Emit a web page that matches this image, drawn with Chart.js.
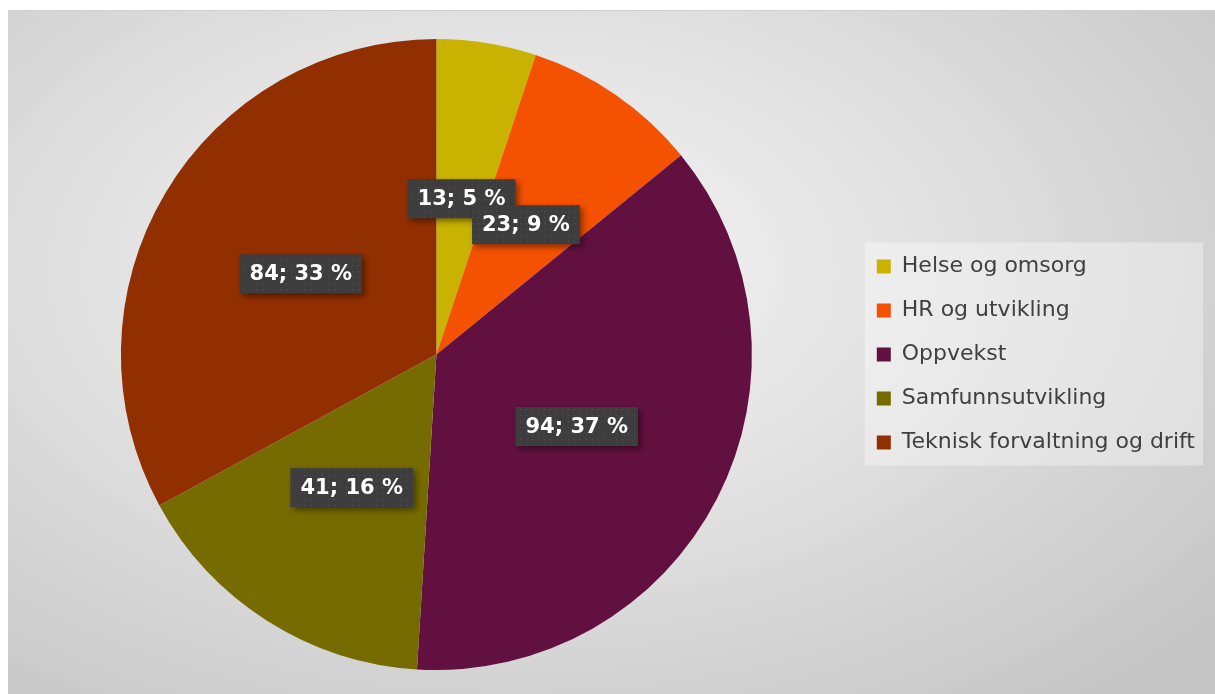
<!DOCTYPE html>
<html>
<head>
<meta charset="utf-8">
<script src="https://cdn.jsdelivr.net/npm/chart.js@4/dist/chart.umd.min.js"></script>
<style>
  html, body { margin: 0; padding: 0; background: #fff; }
  #frame {
    position: absolute; left: 8px; top: 10px; width: 1207px; height: 684px;
    border-top: 1px solid #d0d0d0; box-sizing: border-box;
    background: radial-gradient(ellipse 75% 80% at 42% 38%, #f6f6f6 0%, #e2e2e2 45%, #c6c6c6 100%);
  }
  canvas { display: block; }
</style>
</head>
<body>
<div id="frame"><canvas id="chart" width="1207" height="683"></canvas></div>
<script>
const categories = ['Helse og omsorg', 'HR og utvikling', 'Oppvekst', 'Samfunnsutvikling', 'Teknisk forvaltning og drift'];
const values = [13, 23, 94, 41, 84];
const colors = ['#c9b300', '#f45100', '#621040', '#766b00', '#922f00'];

const fontFamily = '"DejaVu Sans", sans-serif';

// dotted fill for the label boxes
const makePattern = (ctx) => {
    const c = document.createElement('canvas');
    c.width = 6; c.height = 6;
    const p = c.getContext('2d');
    p.fillStyle = '#3d3d3d';
    p.fillRect(0, 0, 6, 6);
    p.fillStyle = '#555555';
    p.fillRect(2, 2, 1, 1);
    return ctx.createPattern(c, 'repeat');
};

const legendBox = {
    id: 'legendBox',
    beforeDraw(chart) {
        const boxes = chart.legend.legendHitBoxes;
        if (!boxes || !boxes.length) return;
        const ctx = chart.ctx;
        const top = Math.min(...boxes.map(b => b.top)) - 13;
        const bottom = Math.max(...boxes.map(b => b.top + b.height)) + 12;
        const left = Math.min(...boxes.map(b => b.left)) - 12;
        const right = chart.width - 12;
        ctx.save();
        ctx.fillStyle = 'rgba(255,255,255,0.35)';
        ctx.fillRect(left, top, right - left, bottom - top);
        ctx.restore();
    }
};

const pieLabels = {
    id: 'pieLabels',
    afterDatasetsDraw(chart) {
        const ctx = chart.ctx;
        const meta = chart.getDatasetMeta(0);
        const total = values.reduce((a, b) => a + b, 0);
        const pattern = makePattern(ctx);
        ctx.save();
        ctx.font = 'bold 21px ' + fontFamily;
        ctx.textAlign = 'center';
        ctx.textBaseline = 'middle';
        meta.data.forEach((arc, i) => {
            const pos = arc.tooltipPosition();
            const text = values[i] + '; ' + Math.round(values[i] / total * 100) + ' %';
            const w = ctx.measureText(text).width + 20;
            const h = 39;
            ctx.save();
            ctx.shadowColor = 'rgba(0,0,0,0.45)';
            ctx.shadowBlur = 6;
            ctx.shadowOffsetX = 3;
            ctx.shadowOffsetY = 3;
            ctx.fillStyle = pattern;
            ctx.fillRect(pos.x - w / 2, pos.y - h / 2, w, h);
            ctx.restore();
            ctx.fillStyle = '#ffffff';
            ctx.fillText(text, pos.x, pos.y + 1);
        });
        ctx.restore();
    }
};

new Chart(document.getElementById('chart'), {
    type: 'pie',
    data: {
        labels: categories,
        datasets: [{
            data: values,
            backgroundColor: colors,
            borderWidth: 0
        }]
    },
    options: {
        responsive: false,
        animation: false,
        layout: { padding: { top: 28, bottom: 24, left: 10, right: 10 } },
        plugins: {
            tooltip: { enabled: false },
            legend: {
                position: 'right',
                labels: {
                    boxWidth: 14,
                    boxHeight: 14,
                    padding: 22,
                    color: '#404040',
                    font: { family: fontFamily, size: 22 }
                }
            }
        }
    },
    plugins: [legendBox, pieLabels]
});
</script>
</body>
</html>
